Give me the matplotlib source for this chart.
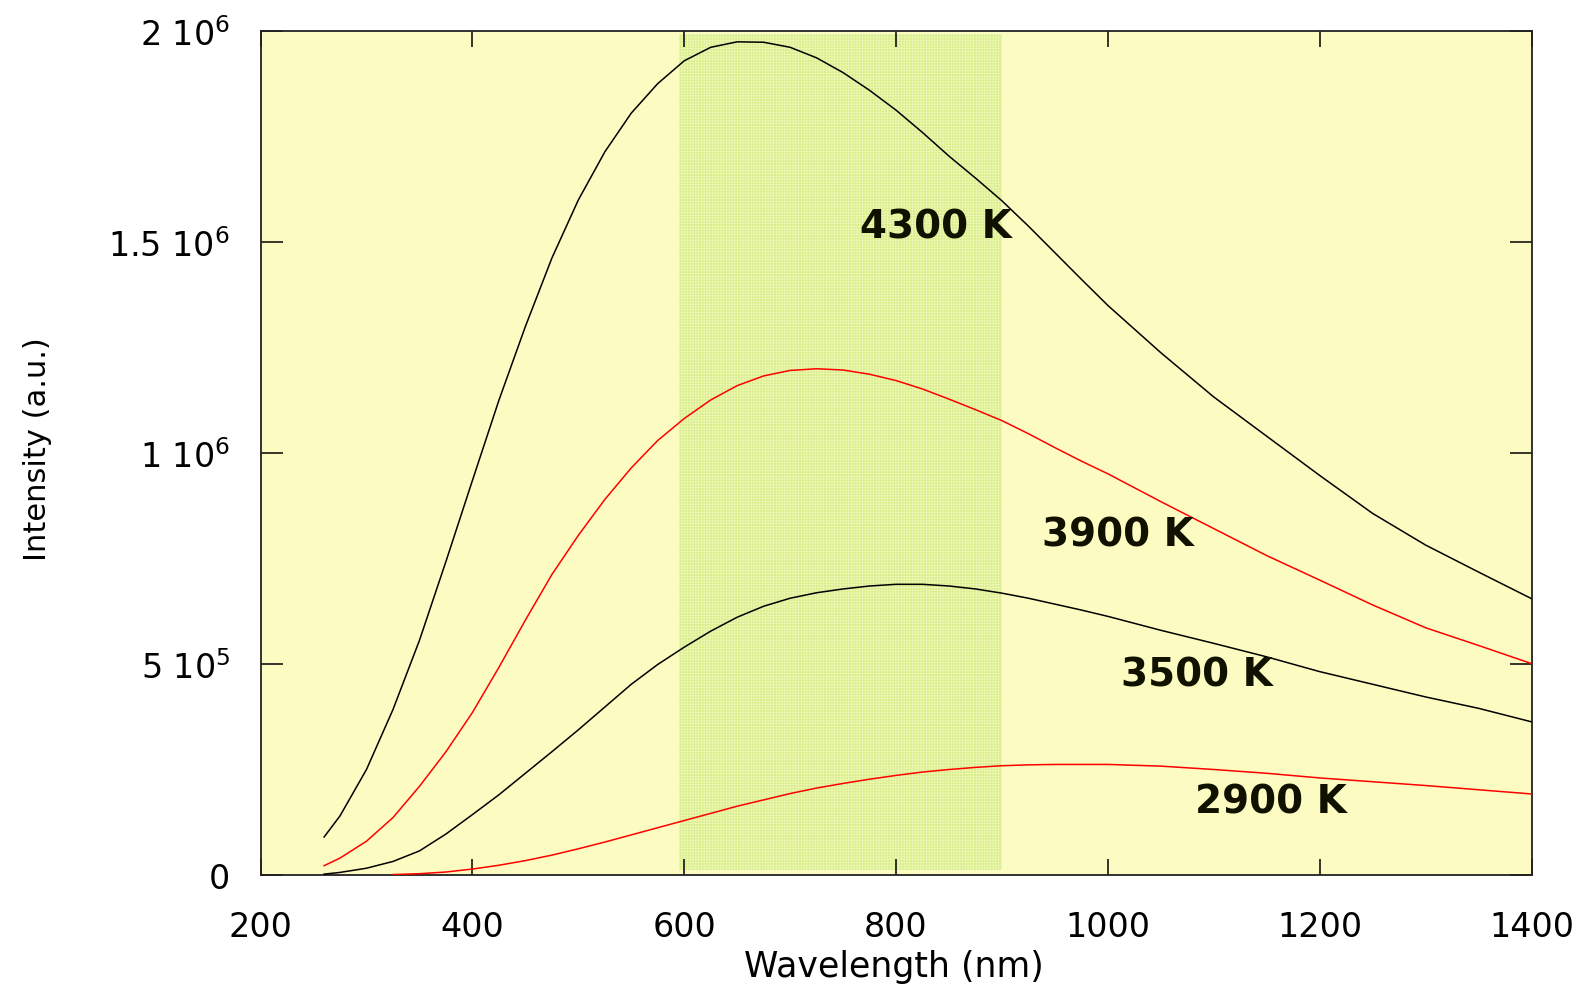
import numpy as np
import matplotlib
matplotlib.use("Agg")
import matplotlib.pyplot as plt
from matplotlib.ticker import FixedLocator

plt.rcParams['font.family'] = ['DejaVu Sans']
plt.rcParams['mathtext.default'] = 'regular'
plt.rcParams['hatch.linewidth'] = 0.6

# Wavelength grid (nm)
wavelength = [260, 275, 300, 325, 350, 375, 400, 425, 450, 475, 500, 525, 550,
              575, 600, 625, 650, 675, 700, 725, 750, 775, 800, 825, 850, 875,
              900, 925, 950, 975, 1000, 1050, 1100, 1150, 1200, 1250, 1300,
              1350, 1400]

# Spectral intensity (a.u.) for each temperature, in units of 1e6
i_4300 = [0.090, 0.140, 0.250, 0.392, 0.556, 0.743, 0.935, 1.125, 1.300, 1.462,
          1.600, 1.714, 1.806, 1.876, 1.930, 1.962, 1.975, 1.974, 1.962, 1.937,
          1.902, 1.860, 1.813, 1.760, 1.704, 1.652, 1.598, 1.538, 1.475, 1.412,
          1.350, 1.238, 1.133, 1.040, 0.947, 0.857, 0.782, 0.718, 0.655]
i_3900 = [0.022, 0.040, 0.080, 0.136, 0.210, 0.292, 0.385, 0.492, 0.604, 0.712,
          0.805, 0.890, 0.965, 1.030, 1.082, 1.126, 1.160, 1.183, 1.196, 1.200,
          1.197, 1.187, 1.172, 1.152, 1.128, 1.103, 1.077, 1.046, 1.013, 0.981,
          0.951, 0.885, 0.821, 0.757, 0.699, 0.640, 0.586, 0.544, 0.501]
i_3500 = [0.002, 0.006, 0.016, 0.032, 0.057, 0.097, 0.143, 0.190, 0.241, 0.292,
          0.344, 0.398, 0.452, 0.499, 0.540, 0.578, 0.611, 0.637, 0.656, 0.669,
          0.678, 0.685, 0.689, 0.689, 0.685, 0.678, 0.668, 0.656, 0.642, 0.628,
          0.613, 0.580, 0.549, 0.517, 0.482, 0.452, 0.422, 0.395, 0.363]
i_2900 = [np.nan, np.nan, np.nan, 0.001, 0.003, 0.007, 0.014, 0.023, 0.034, 0.047,
          0.062, 0.078, 0.095, 0.112, 0.129, 0.146, 0.163, 0.178, 0.193, 0.206,
          0.217, 0.227, 0.236, 0.244, 0.250, 0.255, 0.259, 0.261, 0.262, 0.262,
          0.262, 0.258, 0.250, 0.241, 0.230, 0.221, 0.212, 0.202, 0.192]

temperatures = ["4300 K", "3900 K", "3500 K", "2900 K"]
series = [i_4300, i_3900, i_3500, i_2900]
colors = ["black", "#ff0000", "black", "#ff0000"]
label_pos = [(766, 1.538e6), (938, 0.806e6), (1012, 0.475e6), (1082, 0.1735e6)]

# Visible band
band = (595, 900)

x_ticks = [200, 400, 600, 800, 1000, 1200, 1400]
y_ticks = [0, 5e5, 1e6, 1.5e6, 2e6]
y_tick_labels = ["0", r"5 10$^{5}$", r"1 10$^{6}$", r"1.5 10$^{6}$", r"2 10$^{6}$"]

fig = plt.figure(figsize=(15.83, 9.87), dpi=100)
ax = fig.add_axes([0.1646, 0.1125, 0.8029, 0.8548])
ax.set_facecolor("#fcfcc2")

ax.fill_between(band, 0.012e6, 1.993e6, facecolor="#d9ed86",
                edgecolor="#ecf7b6", hatch="++++++", linewidth=0, zorder=1)

wl = np.array(wavelength, dtype=float)
for vals, col in zip(series, colors):
    ax.plot(wl, np.array(vals) * 1e6, color=col, lw=1.1, zorder=3,
            solid_joinstyle="round")

for (tx, ty), name in zip(label_pos, temperatures):
    ax.text(tx, ty, name, fontsize=28, fontweight="bold", ha="left",
            va="center", color="#111100", zorder=4)

ax.set_xlim(200, 1400)
ax.set_ylim(0, 2e6)
ax.xaxis.set_major_locator(FixedLocator(x_ticks))
ax.yaxis.set_major_locator(FixedLocator(y_ticks))
ax.set_xticklabels([str(v) for v in x_ticks])
ax.set_yticklabels(y_tick_labels)

ax.tick_params(axis="x", direction="in", length=11.5, width=1.1, top=True,
               labelsize=24, pad=25, colors="black")
ax.tick_params(axis="y", direction="in", length=15.5, width=1.1, right=True,
               labelsize=24, pad=22, colors="black")
for sp in ax.spines.values():
    sp.set_linewidth(1.3)
    sp.set_color("#222222")

ax.set_xlabel("Wavelength (nm)", fontsize=25)
ax.set_ylabel("Intensity (a.u.)", fontsize=22)
ax.xaxis.set_label_coords(0.498, -0.088)
ax.yaxis.set_label_coords(-0.164, 0.506)

fig.savefig("out.png", dpi=100, facecolor="white")
